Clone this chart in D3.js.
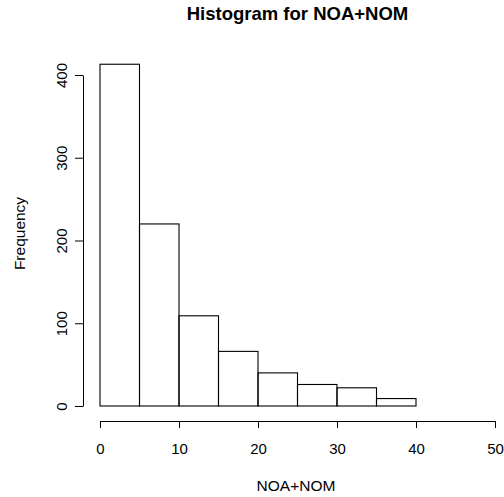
<!DOCTYPE html>
<html><head><meta charset="utf-8">
<script src="https://cdn.jsdelivr.net/npm/d3@7"></script>
<style>body{margin:0;background:#fff}svg{display:block}text{font-family:"Liberation Sans",Arial,sans-serif}</style>
</head><body>
<script>
const binStarts = [0,5,10,15,20,25,30,35,40,45];
const binWidth = 5;
const counts = [413,220,109,66,40,26,22,9,0,0];
const xTicks = [0,10,20,30,40,50];
const yTicks = [0,100,200,300,400];

const W=504,H=497;
const svg=d3.select("body").append("svg").attr("width",W).attr("height",H);
const x=d3.scaleLinear().domain([0,50]).range([100,495]);
const y=d3.scaleLinear().domain([0,400]).range([406,75]);

svg.append("g").selectAll("rect").data(binStarts).join("rect")
  .attr("x",(d)=>x(d)).attr("width",(d)=>x(d+binWidth)-x(d))
  .attr("y",(d,i)=>y(counts[i])).attr("height",(d,i)=>y(0)-y(counts[i]))
  .attr("fill","none").attr("stroke","#000").attr("stroke-width",1.1);

const xa=svg.append("g").attr("transform","translate(0,421)")
  .call(d3.axisBottom(x).tickValues(xTicks).tickSize(7).tickPadding(15).tickSizeOuter(0));
xa.select(".domain").attr("stroke","#000");
xa.selectAll("text").attr("font-size",15).attr("fill","#000");

const ya=svg.append("g").attr("transform","translate(83,0)")
  .call(d3.axisLeft(y).tickValues(yTicks).tickSize(8).tickSizeOuter(0).tickFormat(d3.format("d")));
ya.selectAll("text").remove();
ya.selectAll(".tick").append("text").attr("transform","translate(-21,0) rotate(-90)")
  .attr("text-anchor","middle").attr("dy","0.35em").attr("font-size",15).attr("fill","#000")
  .text(d=>d);

svg.append("text").attr("x",297.5).attr("y",20).attr("text-anchor","middle")
  .attr("font-size",18.5).attr("font-weight","bold").text("Histogram for NOA+NOM");
svg.append("text").attr("x",296).attr("y",491).attr("text-anchor","middle")
  .attr("font-size",15.5).text("NOA+NOM");
svg.append("text").attr("transform","translate(25,233.5) rotate(-90)").attr("text-anchor","middle")
  .attr("font-size",15.5).text("Frequency");
</script>
</body></html>
